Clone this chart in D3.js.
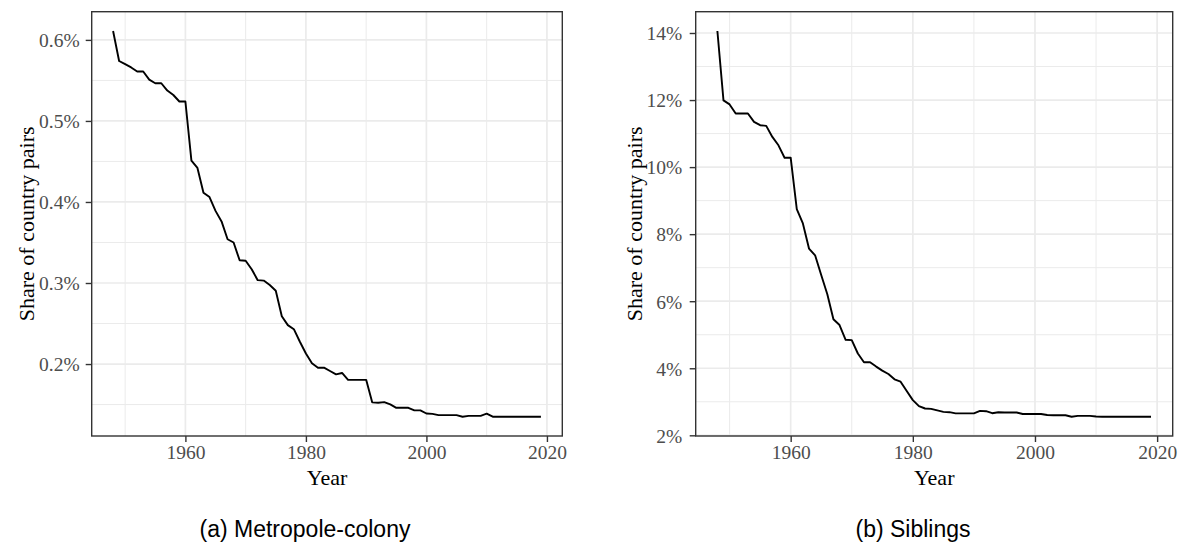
<!DOCTYPE html>
<html>
<head>
<meta charset="utf-8">
<script src="https://cdn.jsdelivr.net/npm/d3@7"></script>
<style>
  body { margin: 0; background: #fff; }
  svg { display: block; }
</style>
</head>
<body>
<svg id="chart" width="1178" height="544"></svg>
<script>
// years 1948..2019, values are share of country pairs in percent
const years = [
  1948, 1949, 1950, 1951, 1952, 1953, 1954, 1955, 1956, 1957, 1958, 1959,
  1960, 1961, 1962, 1963, 1964, 1965, 1966, 1967, 1968, 1969, 1970, 1971,
  1972, 1973, 1974, 1975, 1976, 1977, 1978, 1979, 1980, 1981, 1982, 1983,
  1984, 1985, 1986, 1987, 1988, 1989, 1990, 1991, 1992, 1993, 1994, 1995,
  1996, 1997, 1998, 1999, 2000, 2001, 2002, 2003, 2004, 2005, 2006, 2007,
  2008, 2009, 2010, 2011, 2012, 2013, 2014, 2015, 2016, 2017, 2018, 2019
];

const metropoleColony = [
  0.611, 0.574, 0.570, 0.566, 0.561, 0.561, 0.551, 0.5465, 0.5465, 0.5375, 0.532, 0.524,
  0.524, 0.451, 0.442, 0.4115, 0.406, 0.389, 0.376, 0.354, 0.350, 0.328, 0.3275, 0.317,
  0.3035, 0.303, 0.2975, 0.2905, 0.259, 0.248, 0.243, 0.2275, 0.213, 0.201, 0.1955, 0.1955,
  0.1914, 0.1873, 0.189, 0.1805, 0.1805, 0.1805, 0.1805, 0.1527, 0.1523, 0.153, 0.1502, 0.146,
  0.146, 0.146, 0.1428, 0.1428, 0.139, 0.1385, 0.137, 0.137, 0.137, 0.137, 0.135, 0.136,
  0.136, 0.136, 0.1387, 0.135, 0.135, 0.135, 0.135, 0.135, 0.135, 0.135, 0.135, 0.135
];

const siblings = [
  14.06, 11.99, 11.87, 11.6, 11.6, 11.6, 11.35, 11.25, 11.23, 10.9, 10.65, 10.28,
  10.28, 8.745, 8.32, 7.57, 7.37, 6.78, 6.21, 5.46, 5.29, 4.85, 4.84, 4.44,
  4.18, 4.18, 4.05, 3.93, 3.83, 3.67, 3.60, 3.32, 3.05, 2.87, 2.80, 2.79,
  2.745, 2.70, 2.69, 2.655, 2.655, 2.655, 2.655, 2.73, 2.72, 2.66, 2.69, 2.68,
  2.68, 2.68, 2.635, 2.635, 2.635, 2.635, 2.605, 2.60, 2.60, 2.60, 2.555, 2.58,
  2.58, 2.58, 2.56, 2.555, 2.555, 2.555, 2.555, 2.555, 2.555, 2.555, 2.555, 2.555
];

const xTicks = [1960, 1980, 2000, 2020];
const metropoleTicks = [0.2, 0.3, 0.4, 0.5, 0.6];
const siblingsTicks = [2, 4, 6, 8, 10, 12, 14];

const xTitle = "Year";
const yTitle = "Share of country pairs";
const captions = ["(a) Metropole-colony", "(b) Siblings"];

const svg = d3.select("#chart");

const serif = "'Liberation Serif', 'Times New Roman', serif";
const sans = "'Liberation Sans', Arial, sans-serif";
const gridColor = "#ebebeb";
const darkColor = "#333333";

// ggplot style 5% expansion on both sides
function expanded(extent) {
  const pad = (extent[1] - extent[0]) * 0.05;
  return [extent[0] - pad, extent[1] + pad];
}

function minorBreaks(ticks, domain) {
  const step = ticks[1] - ticks[0];
  const out = [];
  for (let i = -1; i < ticks.length; i++) {
    const v = ticks[0] + step * (i + 0.5);
    if (v > domain[0] && v < domain[1]) out.push(v);
  }
  return out;
}

function drawPanel(cfg) {
  const { left, right, top, bottom } = cfg.box;

  const xDomain = expanded(d3.extent(years));
  const yDomain = expanded(d3.extent(cfg.values));

  const x = d3.scaleLinear().domain(xDomain).range([left, right]);
  const y = d3.scaleLinear().domain(yDomain).range([bottom, top]);

  const g = svg.append("g");

  // minor grid
  g.selectAll(".minor-x")
    .data(minorBreaks(xTicks, xDomain))
    .enter()
    .append("line")
    .attr("x1", (d) => x(d))
    .attr("x2", (d) => x(d))
    .attr("y1", top)
    .attr("y2", bottom)
    .attr("stroke", gridColor)
    .attr("stroke-width", 1);

  g.selectAll(".minor-y")
    .data(minorBreaks(cfg.yTicks, yDomain))
    .enter()
    .append("line")
    .attr("x1", left)
    .attr("x2", right)
    .attr("y1", (d) => y(d))
    .attr("y2", (d) => y(d))
    .attr("stroke", gridColor)
    .attr("stroke-width", 1);

  // major grid
  g.selectAll(".major-x")
    .data(xTicks)
    .enter()
    .append("line")
    .attr("x1", (d) => x(d))
    .attr("x2", (d) => x(d))
    .attr("y1", top)
    .attr("y2", bottom)
    .attr("stroke", gridColor)
    .attr("stroke-width", 1.7);

  g.selectAll(".major-y")
    .data(cfg.yTicks)
    .enter()
    .append("line")
    .attr("x1", left)
    .attr("x2", right)
    .attr("y1", (d) => y(d))
    .attr("y2", (d) => y(d))
    .attr("stroke", gridColor)
    .attr("stroke-width", 1.7);

  // data line
  const line = d3
    .line()
    .x((d, i) => x(years[i]))
    .y((d) => y(d));

  g.append("path")
    .datum(cfg.values)
    .attr("fill", "none")
    .attr("stroke", "#000")
    .attr("stroke-width", 1.9)
    .attr("stroke-linejoin", "round")
    .attr("d", line);

  // panel border
  g.append("rect")
    .attr("x", left)
    .attr("y", top)
    .attr("width", right - left)
    .attr("height", bottom - top)
    .attr("fill", "none")
    .attr("stroke", darkColor)
    .attr("stroke-width", 1.4);

  // axes
  const xAxis = g
    .append("g")
    .attr("transform", `translate(0,${bottom})`)
    .call(d3.axisBottom(x).tickValues(xTicks).tickFormat(d3.format("d")).tickSize(6).tickPadding(7).tickSizeOuter(0));

  const yAxis = g
    .append("g")
    .attr("transform", `translate(${left},0)`)
    .call(d3.axisLeft(y).tickValues(cfg.yTicks).tickFormat(cfg.format).tickSize(6).tickPadding(cfg.yPad).tickSizeOuter(0));

  [xAxis, yAxis].forEach((ax) => {
    ax.select(".domain").remove();
    ax.selectAll(".tick line").attr("stroke", darkColor).attr("stroke-width", 1.4);
    ax.selectAll(".tick text")
      .attr("fill", "#4d4d4d")
      .style("font-family", serif)
      .style("font-size", "19.5px");
  });
  xAxis.selectAll(".tick text").attr("dy", null).attr("y", 23);
  yAxis.selectAll(".tick text").attr("dy", "0.35em");

  // axis titles
  svg.append("text")
    .attr("x", (left + right) / 2)
    .attr("y", 485)
    .attr("text-anchor", "middle")
    .style("font-family", serif)
    .style("font-size", "22px")
    .attr("fill", "#000")
    .text(xTitle);

  svg.append("text")
    .attr("transform", `translate(${cfg.yTitleX},${(top + bottom) / 2}) rotate(-90)`)
    .attr("text-anchor", "middle")
    .style("font-family", serif)
    .style("font-size", "22px")
    .attr("fill", "#000")
    .text(yTitle);

  // caption
  svg.append("text")
    .attr("x", cfg.captionX)
    .attr("y", 537)
    .attr("text-anchor", "middle")
    .style("font-family", sans)
    .style("font-size", "23px")
    .attr("fill", "#000")
    .text(cfg.caption);
}

drawPanel({
  values: metropoleColony,
  yTicks: metropoleTicks,
  format: (d) => d3.format(".1f")(d) + "%",
  box: { left: 91.7, right: 562.3, top: 11.7, bottom: 436 },
  yPad: 6,
  yTitleX: 34,
  caption: captions[0],
  captionX: 305
});

drawPanel({
  values: siblings,
  yTicks: siblingsTicks,
  format: (d) => d3.format("d")(d) + "%",
  box: { left: 695.7, right: 1172.7, top: 11.7, bottom: 436 },
  yPad: 7.5,
  yTitleX: 642,
  caption: captions[1],
  captionX: 913
});
</script>
</body>
</html>
